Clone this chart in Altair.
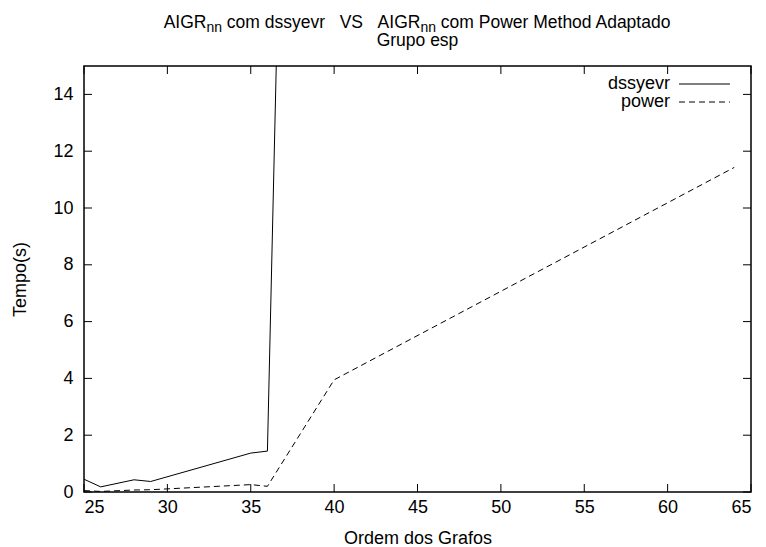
import altair as alt
import pandas as pd

# ---- data ----
x_dssyevr = [25, 26, 28, 29, 35, 36, 40]
y_dssyevr = [0.45, 0.18, 0.43, 0.37, 1.37, 1.44, 104.0]
x_power = [25, 26, 28, 29, 35, 36, 40, 64]
y_power = [0.05, 0.02, 0.07, 0.08, 0.26, 0.2, 3.95, 11.43]
x_ticks = [25, 30, 35, 40, 45, 50, 55, 60, 65]
y_ticks = [0, 2, 4, 6, 8, 10, 12, 14]

W, H = 667, 426
FONT = "Liberation Sans"
FS = 18
TFS = 17.5

df_d = pd.DataFrame({"x": x_dssyevr, "y": y_dssyevr})
df_p = pd.DataFrame({"x": x_power, "y": y_power})
df_xt = pd.DataFrame({"v": x_ticks})
df_yt = pd.DataFrame({"v": y_ticks})

xs = alt.Scale(domain=[25, 65], nice=False, zero=False)
ys = alt.Scale(domain=[0, 15], nice=False, zero=False)

xaxis = alt.Axis(values=x_ticks, grid=False, domain=False, ticks=False, labelFont=FONT,
                 labelFontSize=FS, labelColor="black", labelPadding=6,
                 title="Ordem dos Grafos", titleFont=FONT, titleFontSize=FS,
                 titleFontWeight="normal", titleColor="black", titleX=W / 2, titleY=51,
                 titleBaseline="alphabetic", titleAlign="center")
yaxis = alt.Axis(values=y_ticks, grid=False, domain=False, ticks=False, labelFont=FONT,
                 labelFontSize=FS, labelColor="black", labelPadding=11,
                 title="Tempo(s)", titleFont=FONT, titleFontSize=FS,
                 titleFontWeight="normal", titleColor="black", titleX=-59, titleY=H / 2,
                 titleAngle=270, titleBaseline="alphabetic", titleAlign="center")

line_d = alt.Chart(df_d).mark_line(color="black", strokeWidth=1, clip=True).encode(
    x=alt.X("x:Q", scale=xs, axis=xaxis),
    y=alt.Y("y:Q", scale=ys, axis=yaxis),
)
line_p = alt.Chart(df_p).mark_line(color="black", strokeWidth=1, strokeDash=[6, 4], clip=True).encode(
    x=alt.X("x:Q", scale=xs),
    y=alt.Y("y:Q", scale=ys),
)

TL = 8
tick_layers = [
    alt.Chart(df_xt).mark_rule(color="black", strokeWidth=1).encode(
        x=alt.X("v:Q", scale=xs), y=alt.value(H), y2=alt.value(H - TL)),
    alt.Chart(df_xt).mark_rule(color="black", strokeWidth=1).encode(
        x=alt.X("v:Q", scale=xs), y=alt.value(0), y2=alt.value(TL)),
    alt.Chart(df_yt).mark_rule(color="black", strokeWidth=1).encode(
        y=alt.Y("v:Q", scale=ys), x=alt.value(0), x2=alt.value(TL)),
    alt.Chart(df_yt).mark_rule(color="black", strokeWidth=1).encode(
        y=alt.Y("v:Q", scale=ys), x=alt.value(W), x2=alt.value(W - TL)),
]

# ---- legend (gnuplot style: text then sample) ----
leg_names = ["dssyevr", "power"]
leg_y = [18, 36]
legend_layers = []
for i, name in enumerate(leg_names):
    legend_layers.append(
        alt.Chart(pd.DataFrame({"t": [name]})).mark_text(
            font=FONT, fontSize=FS, align="right", baseline="middle", color="black"
        ).encode(text="t:N", x=alt.value(586), y=alt.value(leg_y[i]))
    )
    kw = {"strokeDash": [6, 4]} if i == 1 else {}
    legend_layers.append(
        alt.Chart(pd.DataFrame({"t": [name]})).mark_rule(color="black", strokeWidth=1, **kw).encode(
            x=alt.value(595), x2=alt.value(646), y=alt.value(leg_y[i]))
    )

# ---- title with subscripts ----
ARIAL = {"A": 667, "I": 278, "G": 778, "R": 722, "n": 556, " ": 278, "c": 500, "o": 556,
         "m": 833, "d": 556, "s": 500, "y": 500, "e": 556, "v": 500, "r": 333, "V": 667,
         "S": 667, "P": 667, "w": 722, "M": 833, "t": 278, "h": 556, "a": 556, "p": 556}


def tw(s, size):
    return sum(ARIAL.get(ch, 556) for ch in s) * size / 1000.0


SUB = TFS * 0.8
# (gap_before_in_spaces, text, is_sub)
pieces = [(0, "AIGR", False), (0, "nn", True), (1, "com dssyevr", False), (3, "VS", False),
          (3, "AIGR", False), (0, "nn", True), (1, "com Power Method Adaptado", False)]
total = 0.0
for gap, txt, sub in pieces:
    total += gap * tw(" ", TFS) + tw(txt, SUB if sub else TFS)
cx = W / 2
pos = cx - total / 2
title_layers = []
for gap, txt, sub in pieces:
    pos += gap * tw(" ", TFS)
    size = SUB if sub else TFS
    title_layers.append(
        alt.Chart(pd.DataFrame({"t": [txt]})).mark_text(
            font=FONT, fontSize=size, align="left", baseline="alphabetic", color="black"
        ).encode(text="t:N", x=alt.value(pos), y=alt.value(-34 if sub else -38))
    )
    pos += tw(txt, size)
title_layers.append(
    alt.Chart(pd.DataFrame({"t": ["Grupo esp"]})).mark_text(
        font=FONT, fontSize=TFS, align="center", baseline="alphabetic", color="black"
    ).encode(text="t:N", x=alt.value(cx), y=alt.value(-20))
)

chart = alt.layer(line_d, line_p, *tick_layers, *legend_layers, *title_layers).properties(
    width=W, height=H,
    autosize=alt.AutoSizeParams(type="none"),
    padding={"left": 76, "top": 58, "right": 7, "bottom": 53},
    background="white",
).configure_view(stroke="black", strokeWidth=1.5)

chart.save("out.html", embed_options={"renderer": "svg", "actions": False})
